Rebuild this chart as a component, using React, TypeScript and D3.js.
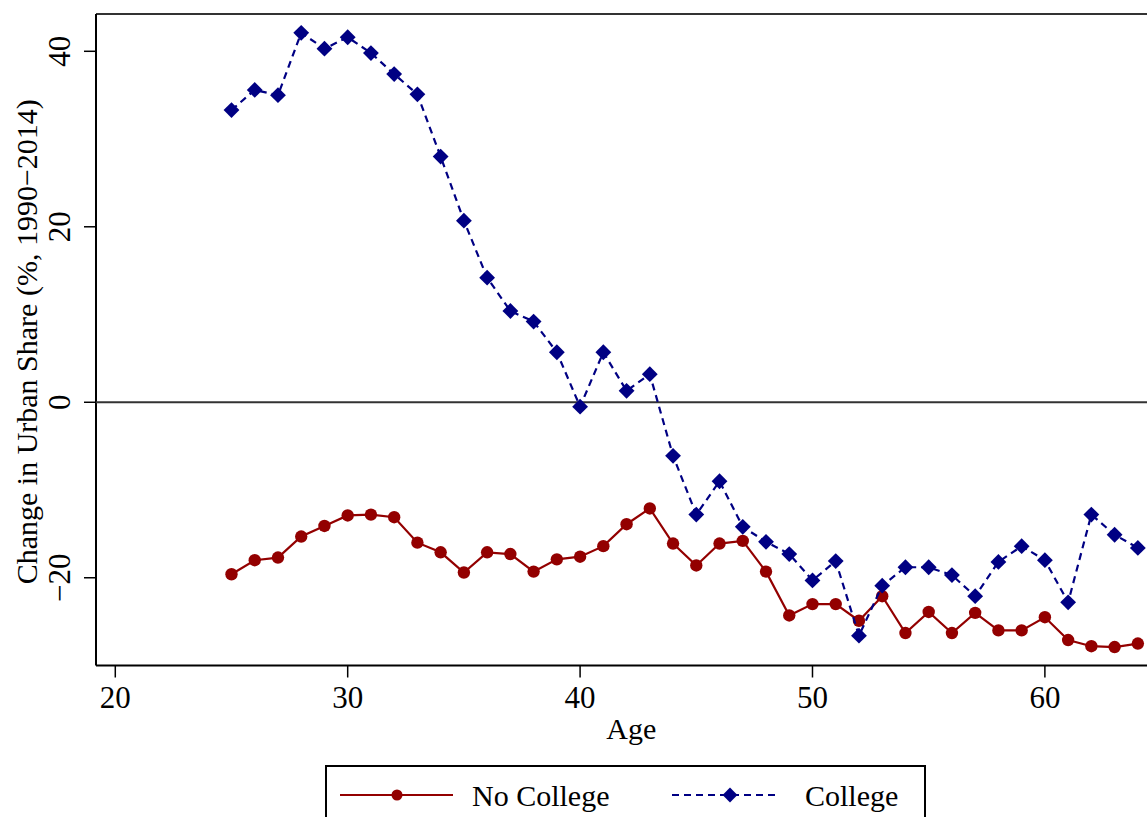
import React, { useEffect, useRef } from 'react';
import * as d3 from 'd3';

// ages 25..64
const ages = d3.range(25, 65);

const college = [
  33.3, 35.6, 35.0, 42.1, 40.3, 41.6, 39.8, 37.4, 35.1, 28.0,
  20.7, 14.2, 10.4, 9.2, 5.7, -0.5, 5.7, 1.3, 3.2, -6.1,
  -12.8, -9.0, -14.2, -15.9, -17.3, -20.3, -18.1, -26.6, -20.9, -18.8,
  -18.8, -19.7, -22.1, -18.2, -16.4, -18.0, -22.8, -12.8, -15.1, -16.6
];

const noCollege = [
  -19.6, -18.0, -17.7, -15.3, -14.1, -12.9, -12.8, -13.1, -16.0, -17.1,
  -19.4, -17.1, -17.3, -19.3, -17.9, -17.6, -16.4, -13.9, -12.1, -16.1,
  -18.6, -16.1, -15.8, -19.3, -24.3, -23.0, -23.0, -24.9, -22.1, -26.3,
  -23.9, -26.3, -24.0, -26.0, -26.0, -24.5, -27.1, -27.8, -27.9, -27.5
];

const xTicks = [20, 30, 40, 50, 60];
const yTicks = [-20, 0, 20, 40];

const RED = '#930000';
const BLUE = '#000083';
const FONT = "'Liberation Serif', 'DejaVu Serif', serif";

const W = 1147, H = 817;
const margin = { left: 96, top: 14 };

const App = () => {
  const ref = useRef<SVGGElement>(null);

  useEffect(() => {
    const g = d3.select(ref.current);
    g.selectAll('*').remove();

    // plot runs past the right edge of the picture
    const x = d3.scaleLinear().domain([19.17, 66]).range([margin.left, 96 + 46.83 * 23.24]);
    const y = d3.scaleLinear().domain([-30, 44.25]).range([665.5, margin.top]);

    // frame: left, top, bottom
    g.append('line').attr('x1', x(19.17)).attr('x2', W).attr('y1', y(44.25)).attr('y2', y(44.25))
      .attr('stroke', '#333').attr('stroke-width', 2);
    g.append('line').attr('x1', x(19.17)).attr('x2', W).attr('y1', y(-30)).attr('y2', y(-30))
      .attr('stroke', '#000').attr('stroke-width', 2);
    g.append('line').attr('x1', x(19.17)).attr('x2', x(19.17)).attr('y1', y(44.25)).attr('y2', y(-30))
      .attr('stroke', '#000').attr('stroke-width', 2);

    // zero line
    g.append('line').attr('x1', x(19.17)).attr('x2', W).attr('y1', y(0)).attr('y2', y(0))
      .attr('stroke', '#333').attr('stroke-width', 2);

    // x ticks
    xTicks.forEach(t => {
      g.append('line').attr('x1', x(t)).attr('x2', x(t)).attr('y1', y(-30)).attr('y2', y(-30) + 12)
        .attr('stroke', '#000').attr('stroke-width', 1.5);
      g.append('text').attr('x', x(t)).attr('y', 708).attr('text-anchor', 'middle')
        .style('font-family', FONT).attr('font-size', 31).text(t);
    });
    g.append('text').attr('x', x(42.2)).attr('y', 739).attr('text-anchor', 'middle')
      .style('font-family', FONT).attr('font-size', 30).text('Age');

    // y ticks
    yTicks.forEach(t => {
      g.append('line').attr('x1', margin.left - 12).attr('x2', margin.left).attr('y1', y(t)).attr('y2', y(t))
        .attr('stroke', '#000').attr('stroke-width', 1.5);
      g.append('text').attr('transform', `translate(70,${y(t)}) rotate(-90)`).attr('text-anchor', 'middle')
        .style('font-family', FONT).attr('font-size', 31).text(t < 0 ? '\u2212' + Math.abs(t) : t);
    });
    g.append('text').attr('transform', `translate(37,${(y(44.25) + y(-30)) / 2 + 2}) rotate(-90)`)
      .attr('text-anchor', 'middle').style('font-family', FONT).attr('font-size', 30)
      .text('Change in Urban Share (%, 1990\u22122014)');

    const line = d3.line<number>().x((d, i) => x(ages[i])).y(d => y(d));

    // no college
    g.append('path').attr('d', line(noCollege)).attr('fill', 'none').attr('stroke', RED).attr('stroke-width', 2.2);
    g.selectAll('.nc').data(noCollege).enter().append('circle')
      .attr('cx', (d, i) => x(ages[i])).attr('cy', d => y(d)).attr('r', 6.2).attr('fill', RED);

    // college
    g.append('path').attr('d', line(college)).attr('fill', 'none').attr('stroke', BLUE)
      .attr('stroke-width', 2.2).attr('stroke-dasharray', '7,5');
    const diamond = d3.symbol().type(d3.symbolSquare).size(125);
    g.selectAll('.c').data(college).enter().append('path')
      .attr('d', diamond())
      .attr('transform', (d, i) => `translate(${x(ages[i])},${y(d)}) rotate(45)`)
      .attr('fill', BLUE);

    // legend
    const lg = g.append('g');
    lg.append('rect').attr('x', 326).attr('y', 766).attr('width', 599).attr('height', 70)
      .attr('fill', 'white').attr('stroke', '#000').attr('stroke-width', 2);
    lg.append('line').attr('x1', 340).attr('x2', 453).attr('y1', 795).attr('y2', 795)
      .attr('stroke', RED).attr('stroke-width', 2.2);
    lg.append('circle').attr('cx', 397).attr('cy', 795).attr('r', 5.5).attr('fill', RED);
    lg.append('text').attr('x', 472).attr('y', 806).style('font-family', FONT).attr('font-size', 30).text('No College');
    lg.append('line').attr('x1', 672).attr('x2', 780).attr('y1', 795).attr('y2', 795)
      .attr('stroke', BLUE).attr('stroke-width', 2.2).attr('stroke-dasharray', '7,5');
    lg.append('path').attr('d', d3.symbol().type(d3.symbolSquare).size(110)())
      .attr('transform', 'translate(730,795) rotate(45)').attr('fill', BLUE);
    lg.append('text').attr('x', 805).attr('y', 806).style('font-family', FONT).attr('font-size', 30).text('College');
  }, []);

  return (
    <svg width={W} height={H} style={{ position: 'absolute', left: 0, top: 0, background: 'white' }}>
      <g ref={ref} />
    </svg>
  );
};

export default App;
